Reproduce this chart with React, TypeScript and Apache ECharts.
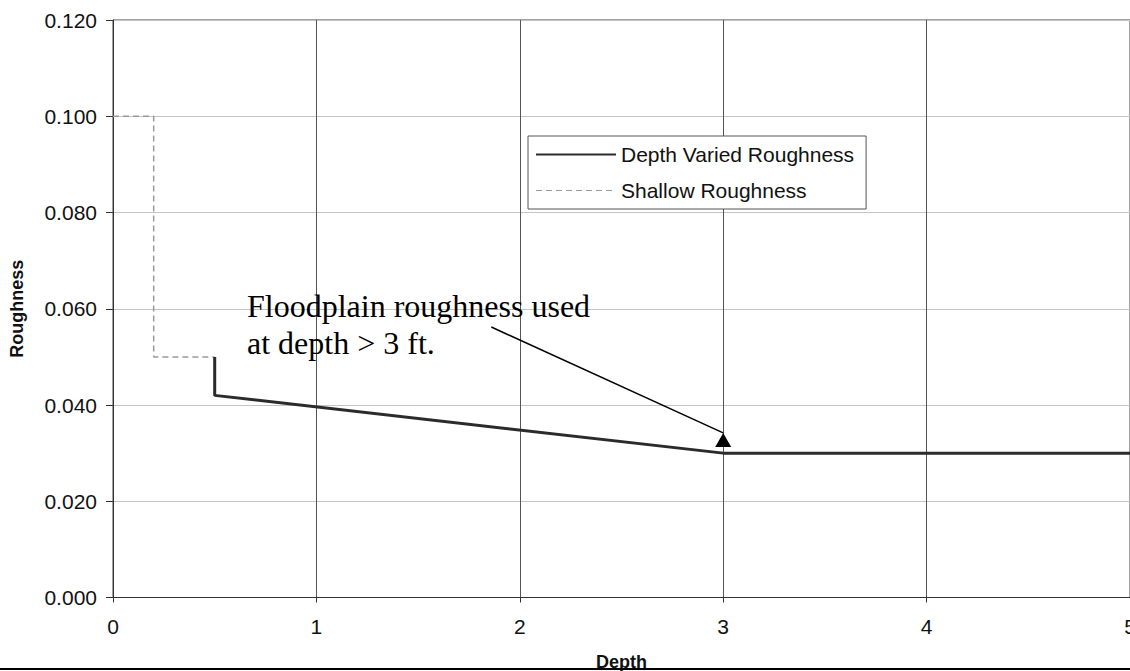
import React, { useEffect, useRef } from "react";
import * as echarts from "echarts";

// Data
const depthVariedX = [0.5, 0.5, 3, 5];
const depthVariedY = [0.05, 0.042, 0.03, 0.03];
const shallowX = [0, 0.2, 0.2, 0.5];
const shallowY = [0.1, 0.1, 0.05, 0.05];
const seriesNames = ["Depth Varied Roughness", "Shallow Roughness"];
const annotationLines = ["Floodplain roughness used", "at depth > 3 ft."];
const arrowFrom = [1.86, 0.0562];
const arrowTo = [3.0, 0.0342];

const SANS = "'Liberation Sans', Arial, sans-serif";
const SERIF = "'Liberation Serif', 'Times New Roman', serif";

export default function App() {
  const ref = useRef<HTMLDivElement>(null);
  useEffect(() => {
    if (!ref.current) return;
    const chart = echarts.init(ref.current, null, { renderer: "svg" });
    const depthData = depthVariedX.map((x, i) => [x, depthVariedY[i]]);
    const shallowData = shallowX.map((x, i) => [x, shallowY[i]]);
    chart.setOption({
      animation: false,
      backgroundColor: "#ffffff",
      grid: {
        left: 113,
        top: 20,
        right: 0,
        bottom: 73.5,
        outerBoundsMode: "none",
        containLabel: false,
        show: true,
        borderColor: "#444",
        borderWidth: 1,
        backgroundColor: "transparent",
      },
      legend: {
        orient: "vertical",
        left: 528,
        top: 136,
        padding: [8, 12, 8, 7],
        borderColor: "#555",
        borderWidth: 1,
        backgroundColor: "#fff",
        itemWidth: 80,
        itemHeight: 16,
        itemGap: 15,
        textStyle: { fontSize: 21, fontFamily: SANS, color: "#111" },
        data: [
          {
            name: seriesNames[0],
            lineStyle: { width: 2 },
            itemStyle: { opacity: 0 },
          },
          {
            name: seriesNames[1],
            lineStyle: { width: 1.2 },
            itemStyle: { opacity: 0 },
          },
        ],
      },
      xAxis: {
        type: "value",
        min: 0,
        max: 5,
        interval: 1,
        name: "Depth",
        nameLocation: "middle",
        nameGap: 55,
        nameTextStyle: { fontSize: 18, fontWeight: "bold", fontFamily: SANS, color: "#111" },
        axisLine: { show: true, onZero: false, lineStyle: { color: "#333", width: 1 } },
        axisTick: { show: true, length: 5, lineStyle: { color: "#333" } },
        axisLabel: { fontSize: 21, fontFamily: SANS, color: "#111", margin: 18 },
        splitLine: { show: true, lineStyle: { color: "#555", width: 1 } },
      },
      yAxis: {
        type: "value",
        min: 0,
        max: 0.12,
        interval: 0.02,
        name: "Roughness",
        nameLocation: "middle",
        nameGap: 87,
        nameRotate: 90,
        nameTextStyle: { fontSize: 18, fontWeight: "bold", fontFamily: SANS, color: "#111" },
        axisLine: { show: true, lineStyle: { color: "#333", width: 1 } },
        axisTick: { show: true, length: 7, lineStyle: { color: "#333" } },
        axisLabel: {
          fontSize: 21,
          fontFamily: SANS,
          color: "#111",
          margin: 16,
          formatter: (v: number) => v.toFixed(3),
        },
        splitLine: { show: true, lineStyle: { color: "#c4c4c4", width: 1 } },
      },
      series: [
        {
          name: seriesNames[0],
          type: "line",
          data: depthData,
          symbol: "none",
          lineStyle: { color: "#2b2b2b", width: 3 },
          itemStyle: { color: "#2b2b2b" },
          z: 3,
        },
        {
          name: seriesNames[1],
          type: "line",
          data: shallowData,
          symbol: "none",
          lineStyle: { color: "#9a9a9a", width: 1.5, type: [6, 4] },
          itemStyle: { color: "#9a9a9a" },
          z: 2,
        },
      ],
    });

    const p0 = chart.convertToPixel({ gridIndex: 0 }, arrowFrom) as number[];
    const p1 = chart.convertToPixel({ gridIndex: 0 }, arrowTo) as number[];
    chart.setOption({
      graphic: [
        {
          type: "text",
          left: 247,
          top: 287,
          z: 10,
          style: {
            text: annotationLines.join("\n"),
            fontSize: 32,
            lineHeight: 37,
            fontFamily: SERIF,
            fill: "#000",
          },
        },
        {
          type: "line",
          z: 10,
          shape: { x1: p0[0], y1: p0[1], x2: p1[0], y2: p1[1] },
          style: { stroke: "#000", lineWidth: 1.5 },
        },
        {
          type: "polygon",
          z: 10,
          shape: {
            points: [
              [p1[0], p1[1]],
              [p1[0] - 8, p1[1] + 14],
              [p1[0] + 8, p1[1] + 14],
            ],
          },
          style: { fill: "#000" },
        },
        {
          type: "rect",
          z: 10,
          shape: { x: 0, y: 668, width: 1130, height: 2 },
          style: { fill: "#000" },
        },
      ],
    });
    return () => chart.dispose();
  }, []);
  return (
    <div
      ref={ref}
      style={{ position: "absolute", left: 0, top: 0, width: 1130, height: 671 }}
    />
  );
}
